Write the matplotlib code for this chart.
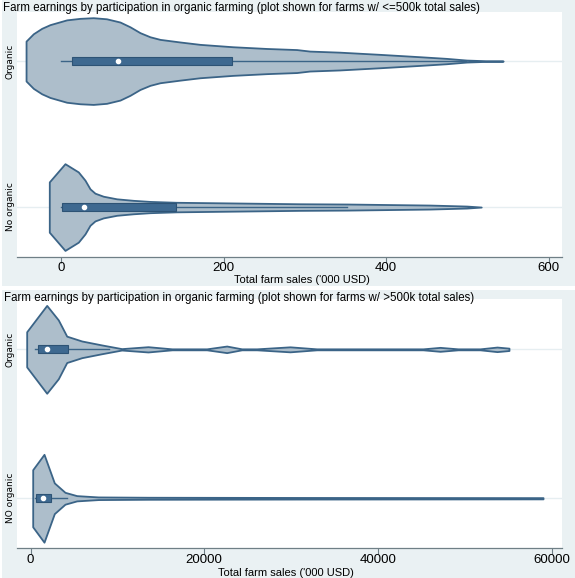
import matplotlib
matplotlib.use("Agg")
import matplotlib.pyplot as plt
import numpy as np
from matplotlib.patches import Rectangle

# --- data ---
groups_top = ["Organic", "No organic"]
groups_bottom = ["Organic", "NO organic"]

# panel 1 (farms w/ <=500k), sales in '000 USD, density as relative half-width
p1_org_vals = [-43, -34, -23.7, -13.5, 7, 23.4, 39.7, 56, 72.6, 84.9, 97.2, 109.5, 121.8,
               146.4, 171, 211.5, 253.4, 290, 306, 343, 392, 441.6, 474, 499, 523.6, 544]
p1_org_dens = [0.46, 0.63, 0.755, 0.84, 0.95, 0.985, 1.0, 0.975, 0.90, 0.79, 0.655, 0.56, 0.50,
               0.44, 0.385, 0.33, 0.29, 0.265, 0.23, 0.205, 0.155, 0.10, 0.062, 0.023, 0.007, 0.0]
p1_no_vals = [-14.4, 4.9, 21.3, 29.5, 35.7, 41.8, 52, 68.5, 89, 109.5, 142.3,
              294, 352, 454, 499, 517]
p1_no_dens = [0.58, 1.0, 0.81, 0.62, 0.42, 0.32, 0.25, 0.19, 0.155, 0.13, 0.11,
              0.076, 0.07, 0.046, 0.023, 0.0]

# box stats: (lower whisker, q1, median, q3, upper whisker)
p1_org_box = [0, 14, 70, 210, 498]
p1_no_box = [0, 1, 28, 141, 352]

# panel 2 (farms w/ >500k)
p2_org_vals = [-440, 1865, 3200, 4170, 5900, 8200, 10500, 13530, 16290, 20290, 22590,
               24320, 26050, 29880, 32950, 45190, 47150, 49220, 51760, 53710, 55090]
p2_org_dens = [0.40, 1.0, 0.67, 0.30, 0.19, 0.10, 0.016, 0.06, 0.011, 0.011, 0.075,
               0.011, 0.011, 0.057, 0.011, 0.011, 0.045, 0.011, 0.011, 0.052, 0.027]
p2_no_vals = [253, 1555, 2740, 3970, 5320, 7800, 13530, 31030, 59010]
p2_no_dens = [0.65, 1.0, 0.35, 0.135, 0.06, 0.03, 0.023, 0.018, 0.014]

p2_org_box = [520, 900, 1930, 4350, 9000]
p2_no_box = [520, 630, 1475, 2330, 4170]

p1_ticks = [0, 200, 400, 600]
p2_ticks = [0, 20000, 40000, 60000]

BG = "#eaf1f3"
FILL = "#adbecb"
EDGE = "#3b6487"
BOX = "#3e6990"
BOXEDGE = "#2d5375"
AXC = "#6f7f86"
FONT = "Liberation Sans"

W, H = 575, 578
fig = plt.figure(figsize=(W / 100, H / 100), dpi=100)
fig.patches.append(Rectangle((0.004, 1 - 286 / H), 0.996, 286 / H, transform=fig.transFigure,
                             facecolor=BG, edgecolor="none", zorder=-10))
fig.patches.append(Rectangle((0.004, 0), 0.996, 1 - 289.5 / H, transform=fig.transFigure,
                             facecolor=BG, edgecolor="none", zorder=-10))


def violin_panel(ax, profiles, boxes, labels, maxw, xlim, ylim, ticks):
    for pos, (vals, dens), box in zip(range(len(labels)), profiles, boxes):
        ax.axhline(pos, color="#e6eef1", lw=1, zorder=0)
        v = np.array(vals, dtype=float)
        d = np.array(dens, dtype=float) * maxw
        ax.fill_between(v, pos - d, pos + d, facecolor=FILL, edgecolor=EDGE, lw=1.3, zorder=2)
        lo, q1, med, q3, hi = box
        ax.plot([lo, hi], [pos, pos], color=EDGE, lw=1.0, zorder=3)
        bh = 0.027
        ax.add_patch(Rectangle((q1, pos - bh), q3 - q1, 2 * bh, facecolor=BOX,
                               edgecolor=BOXEDGE, lw=0.8, zorder=4))
        ax.plot([med], [pos], marker="o", ms=3.0, mfc="white", mec="white", zorder=5)
    ax.set_xlim(*xlim)
    ax.set_ylim(*ylim)
    ax.set_yticks(range(len(labels)))
    ax.set_yticklabels(labels, rotation=90, va="center", fontsize=6.5,
                       family="Liberation Sans Narrow")
    ax.tick_params(axis="y", length=0, pad=1.5)
    ax.set_xticks(ticks)
    ax.set_xticklabels([str(t) for t in ticks], fontsize=9.5, family=FONT)
    ax.tick_params(axis="x", length=4, width=0.8, color=AXC, pad=0)
    for s in ["top", "right", "left"]:
        ax.spines[s].set_visible(False)
    ax.spines["bottom"].set_color(AXC)
    ax.spines["bottom"].set_linewidth(0.9)
    ax.set_facecolor("white")


ax1 = fig.add_axes([16.7 / W, 1 - 256.7 / H, 545 / W, 244.4 / H])
violin_panel(ax1, [(p1_org_vals, p1_org_dens), (p1_no_vals, p1_no_dens)],
             [p1_org_box, p1_no_box], groups_top, 0.297, (-54.5, 616), (1.34, -0.334), p1_ticks)

ax2 = fig.add_axes([16.7 / W, 1 - 548.3 / H, 545 / W, 249.3 / H])
violin_panel(ax2, [(p2_org_vals, p2_org_dens), (p2_no_vals, p2_no_dens)],
             [p2_org_box, p2_no_box], groups_bottom, 0.295, (-1590, 61160), (1.336, -0.338), p2_ticks)

fig.text(3 / W, 1 - 8.3 / H,
         "Farm earnings by participation in organic farming (plot shown for farms w/ <=500k total sales)",
         fontsize=8.3, family=FONT, va="center", ha="left")
fig.text(4 / W, 1 - 297.7 / H,
         "Farm earnings by participation in organic farming (plot shown for farms w/ >500k total sales)",
         fontsize=8.3, family=FONT, va="center", ha="left")
fig.text(302 / W, 1 - 279.8 / H, "Total farm sales ('000 USD)", fontsize=8.0, family=FONT,
         va="center", ha="center")
fig.text(286 / W, 1 - 573.5 / H, "Total farm sales ('000 USD)", fontsize=8.0, family=FONT,
         va="center", ha="center")

fig.savefig("out.png", dpi=100)
